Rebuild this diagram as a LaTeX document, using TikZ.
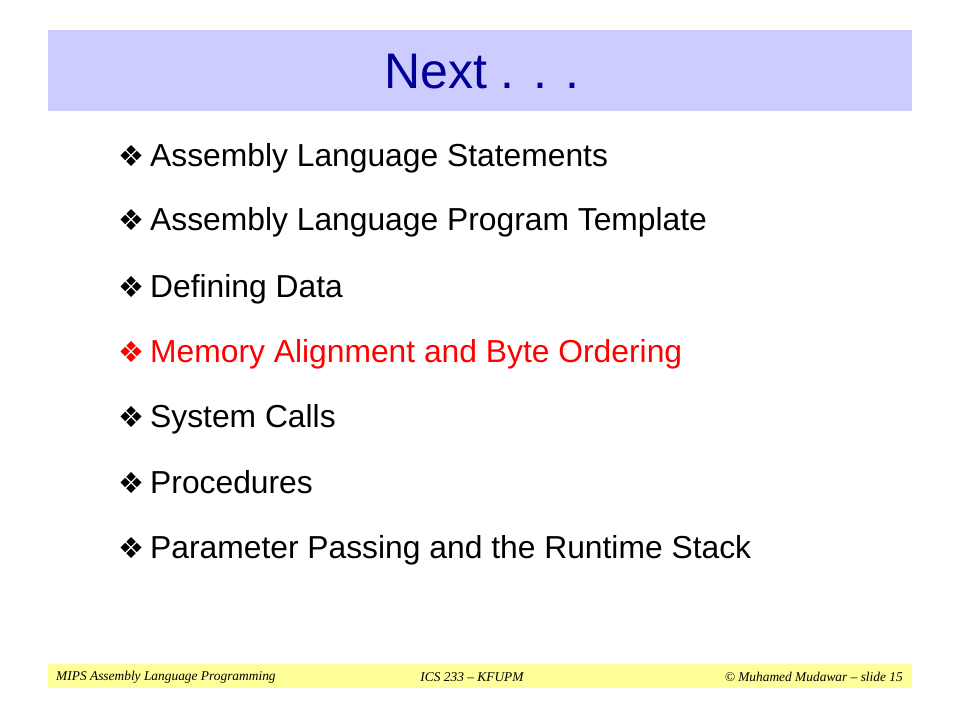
\documentclass[tikz,border=0pt]{standalone}
\usepackage{fontspec}
\setmainfont{Liberation Sans}
\newfontfamily\symfont{DejaVu Sans}
\newfontfamily\footfont{Liberation Serif}
\usetikzlibrary{positioning}
\definecolor{titleblue}{HTML}{CCCCFF}
\definecolor{titleink}{HTML}{000099}
\definecolor{footyellow}{HTML}{FFFF99}

\begin{document}
\begin{tikzpicture}[x=1pt, y=-1pt,
item/.style={anchor=base west, inner sep=0pt, font=\fontsize{31.8}{34}\selectfont},
foot/.style={inner sep=0pt, font=\footfont\itshape\fontsize{13.4}{15}\selectfont},
]
\useasboundingbox (0,0) rectangle (960,720);

% bars
\fill[titleblue] (48,30) rectangle (912,111);
\fill[footyellow] (48,664) rectangle (912,688);

\node[inner sep=0pt, text=titleink, font=\fontsize{50}{54}\selectfont](title) at (482,72){Next . . .};

% bullets
\foreach \y/\txt/\col [count=\i] in {166/Assembly Language Statements/black,
  230/Assembly Language Program Template/black,
  297/Defining Data/black,
  362/Memory Alignment and Byte Ordering/red,
  427/System Calls/black,
  493/Procedures/black,
  558/Parameter Passing and the Runtime Stack/black}
  \node[item, text=\col](item_\i) at (118,\y){{\symfont\fontsize{29}{31}\selectfont ❖}\hspace{6pt}\txt};

% footer
\node[foot, anchor=west](foot_left) at (56,677){MIPS Assembly Language Programming};
\node[foot](foot_mid) at (472,677){ICS 233 – KFUPM};
\node[foot, anchor=east](foot_right) at (903,677){© Muhamed Mudawar – slide 15};
\end{tikzpicture}
\end{document}
